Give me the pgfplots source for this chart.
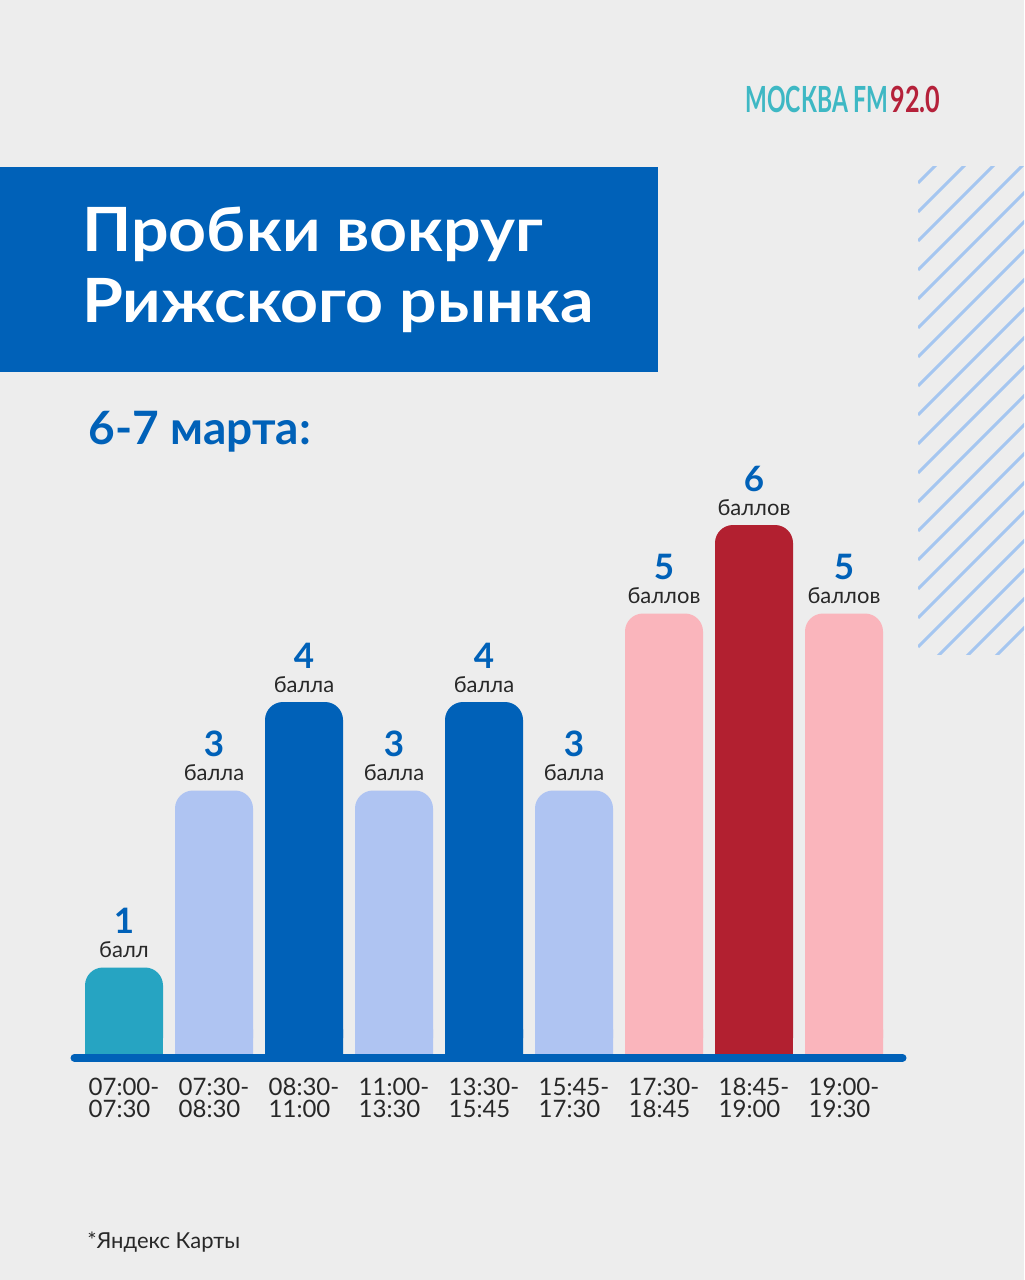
\documentclass[border=0pt]{standalone}
\usepackage{pgfplots}
\pgfplotsset{compat=1.18}
\usepackage{fontspec}
\setmainfont{Lato}

\definecolor{bg}{RGB}{237,237,237}
\definecolor{mainblue}{RGB}{0,97,184}
\definecolor{lightblue}{RGB}{175,196,242}
\definecolor{teal}{RGB}{38,164,194}
\definecolor{pinkbar}{RGB}{250,181,188}
\definecolor{redbar}{RGB}{178,32,48}
\definecolor{darktext}{RGB}{40,40,40}
\definecolor{stripe}{RGB}{165,198,240}
\definecolor{logoteal}{RGB}{62,184,196}
\definecolor{logored}{RGB}{181,33,58}

\begin{document}
\begin{tikzpicture}
    % фон
    \fill[bg] (0,0) rectangle (512pt,640pt);

    % заголовок
    \fill[mainblue] (0,454pt) rectangle (329pt,556.5pt);
    \node[anchor=base west, inner sep=0pt, text=white,
        font=\fontsize{30.5}{36}\selectfont\bfseries]
        at (41pt,514pt) {\scalebox{1.085}[1]{Пробки вокруг}};
    \node[anchor=base west, inner sep=0pt, text=white,
        font=\fontsize{30.5}{36}\selectfont\bfseries]
        at (41pt,478.5pt) {\scalebox{1.085}[1]{Рижского рынка}};

    \node[anchor=base west, inner sep=0pt, text=mainblue,
        font=\fontsize{23}{28}\selectfont\bfseries]
        at (44pt,417.5pt) {6-7 марта:};

    % логотип
    \node[anchor=base west, inner sep=0pt, text=logoteal,
        font=\fontsize{18}{20}\selectfont\bfseries]
        at (372.5pt,583.5pt) {\scalebox{0.64}[1]{МОСКВА FM}};
    \node[anchor=base west, inner sep=0pt, text=logored,
        font=\fontsize{18}{20}\selectfont\bfseries]
        at (445pt,583.5pt) {\scalebox{0.7}[1]{92.0}};

    % штриховка справа
    \begin{scope}
        \clip (459pt,312.5pt) rectangle (512pt,556.5pt);
        \foreach \k in {0,...,20} {
            \draw[stripe, line width=1.5pt]
                (459pt,548.5pt-\k*14.5pt) -- ++(80pt,80pt);
        }
    \end{scope}

    % сноска
    \node[anchor=base west, inner sep=0pt, text=darktext,
        font=\fontsize{11}{13}\selectfont]
        at (43.5pt,16pt) {*Яндекс Карты};

    \begin{axis}[
        at={(35pt,112pt)},
        anchor=south west,
        scale only axis,
        width=418.5pt,
        height=309.75pt,
        xmin=-0.6, xmax=8.7,
        ymin=0, ymax=7,
        clip=false,
        axis line style={draw=none},
        major tick length=0pt,
        ytick=\empty,
        xtick={0,...,8},
        xticklabels={{07:00-\\07:30},{07:30-\\08:30},{08:30-\\11:00},
            {11:00-\\13:30},{13:30-\\15:45},{15:45-\\17:30},
            {17:30-\\18:45},{18:45-\\19:00},{19:00-\\19:30}},
        xticklabel style={align=left, inner sep=0pt, anchor=north,
            yshift=-11pt, text=darktext,
            font=\fontsize{12}{11}\selectfont},
        /pgf/number format/assume math mode=true,
        ybar,
        base/.style={draw=none, fill=#1, bar width=39pt, bar shift=0pt},
        top/.style={base=#1, rounded corners=9pt,
            point meta=explicit symbolic,
            visualization depends on={rawy \as \rawy},
            nodes near coords={{\fontsize{17.5}{17.5}\selectfont\bfseries
                \color{mainblue}\pgfmathprintnumber{\rawy}}\\\pgfplotspointmeta},
            every node near coord/.style={anchor=south, inner sep=0pt,
                yshift=4.5pt, align=center, text=darktext,
                font=\fontsize{11}{12}\selectfont}}
    ]

        % нижние части столбцов (без скругления)
        \addplot[base=teal] coordinates {(0,0.3)};
        \addplot[base=lightblue] coordinates {(1,0.3) (3,0.3) (5,0.3)};
        \addplot[base=mainblue] coordinates {(2,0.3) (4,0.3)};
        \addplot[base=pinkbar] coordinates {(6,0.3) (8,0.3)};
        \addplot[base=redbar] coordinates {(7,0.3)};

        % столбцы
        \addplot[top=teal] coordinates {(0,1) [балл]};
        \addplot[top=lightblue] coordinates {
            (1,3) [балла]
            (3,3) [балла]
            (5,3) [балла]
        };
        \addplot[top=mainblue] coordinates {
            (2,4) [балла]
            (4,4) [балла]
        };
        \addplot[top=pinkbar] coordinates {
            (6,5) [баллов]
            (8,5) [баллов]
        };
        \addplot[top=redbar] coordinates {(7,6) [баллов]};

        % линия основания
        \draw[mainblue, line width=4pt, line cap=round]
            (axis cs:-0.55,-0.02) -- (axis cs:8.65,-0.02);

    \end{axis}
\end{tikzpicture}
\end{document}
